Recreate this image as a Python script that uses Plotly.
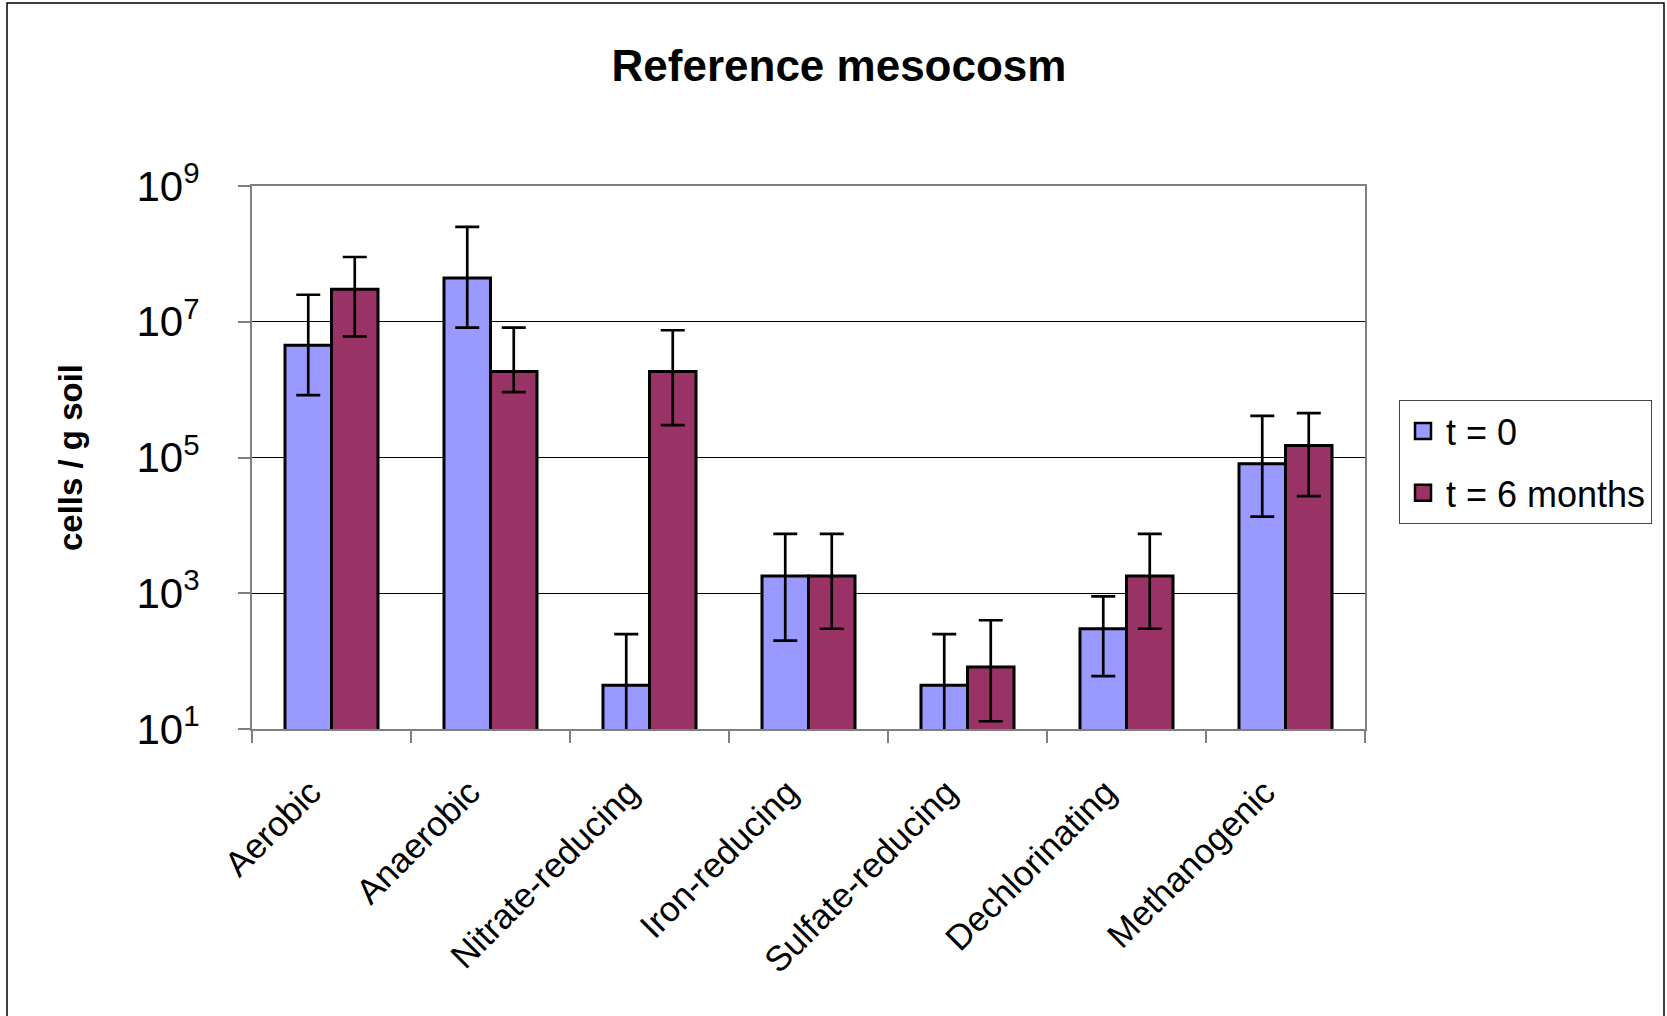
import plotly.graph_objects as go

# ---- data ----
categories = ["Aerobic", "Anaerobic", "Nitrate-reducing", "Iron-reducing",
              "Sulfate-reducing", "Dechlorinating", "Methanogenic"]

t0_values = [4.5e6, 4.4e7, 44, 1800, 44, 300, 8.1e4]
t0_low    = [8.3e5, 8.2e6, 8, 200, 8, 60, 1.35e4]
t0_high   = [2.5e7, 2.5e8, 250, 7500, 250, 900, 4.1e5]

t6_values = [3.0e7, 1.85e6, 1.85e6, 1800, 82, 1800, 1.5e5]
t6_low    = [6.1e6, 9.2e5, 3.0e5, 300, 13, 300, 2.7e4]
t6_high   = [9.0e7, 8.2e6, 7.5e6, 7500, 400, 7500, 4.5e5]

series_names = ["t = 0", "t = 6 months"]
series_colors = ["#9999FF", "#993366"]

ytick_vals = [1e1, 1e3, 1e5, 1e7, 1e9]
ytick_text = ["10<sup>1</sup>", "10<sup>3</sup>", "10<sup>5</sup>",
              "10<sup>7</sup>", "10<sup>9</sup>"]

FONT = "Liberation Sans, Arial, sans-serif"
PAD = "\u00a0" * 3  # nudges the rotated labels slightly left/down like Excel

fig = go.Figure()
for name, color, vals, lo, hi, grp in [
    (series_names[0], series_colors[0], t0_values, t0_low, t0_high, "a"),
    (series_names[1], series_colors[1], t6_values, t6_low, t6_high, "b"),
]:
    fig.add_trace(go.Bar(
        x=categories, y=vals, name=name, legendgroup=grp, showlegend=False,
        marker=dict(color=color, line=dict(color="black", width=3)),
        error_y=dict(type="data", symmetric=False,
                     array=[h - v for h, v in zip(hi, vals)],
                     arrayminus=[v - l for v, l in zip(vals, lo)],
                     color="black", thickness=2.7, width=12),
    ))
    # legend entry with a larger square swatch (like the Excel legend key)
    fig.add_trace(go.Scatter(
        x=[None], y=[None], mode="markers", name=name, legendgroup=grp,
        marker=dict(symbol="square", size=16, color=color,
                    line=dict(color="black", width=2.5)),
        hoverinfo="skip",
    ))

W, H = 1667, 1016
L, R, T, B = 252, 1365, 186, 729

def px_x(p):
    return (p - L) / (R - L)

def px_y(p):
    return (B - p) / (B - T)

fig.update_layout(
    width=W, height=H,
    margin=dict(l=L, r=W - R, t=T, b=H - B, autoexpand=False),
    paper_bgcolor="white", plot_bgcolor="white",
    font=dict(family=FONT, color="black", size=35),
    barmode="group", bargap=0.415, bargroupgap=0,
    title=dict(text="<b>Reference mesocosm</b>",
               font=dict(family=FONT, size=44, color="black"),
               xref="paper", x=px_x(839), xanchor="center",
               yref="container", y=1 - 66 / H, yanchor="middle"),
    showlegend=True,
    legend=dict(x=px_x(1399), xanchor="left", y=px_y(400), yanchor="top",
                bgcolor="white", bordercolor="#444444", borderwidth=1,
                font=dict(family=FONT, size=36, color="black"),
                traceorder="grouped", tracegroupgap=12,
                itemsizing="trace", itemwidth=36),
    xaxis=dict(
        type="category", tickangle=-45, tickson="boundaries",
        tickvals=categories, ticktext=[c + PAD for c in categories],
        ticks="outside", ticklen=12, tickcolor="#808080", tickwidth=1.5,
        ticklabelstandoff=6,
        showline=True, linecolor="#808080", linewidth=2, mirror=True,
        showgrid=False,
        tickfont=dict(family=FONT, size=35, color="black"),
    ),
    yaxis=dict(
        type="log", range=[1, 9],
        tickvals=ytick_vals, ticktext=ytick_text,
        ticks="outside", ticklen=12, tickcolor="#808080", tickwidth=1.5,
        ticklabelstandoff=30,
        showline=True, linecolor="#808080", linewidth=2, mirror=True,
        showgrid=True, gridcolor="black", gridwidth=1,
        zeroline=False,
        tickfont=dict(family=FONT, size=42, color="black"),
        title=dict(text="<b>cells / g soil</b>", standoff=44,
                   font=dict(family=FONT, size=33, color="black")),
    ),
    shapes=[dict(type="rect", xref="paper", yref="paper",
                 x0=px_x(7), x1=px_x(1664), y0=px_y(1030), y1=px_y(3),
                 line=dict(color="black", width=1.5), fillcolor="rgba(0,0,0,0)",
                 layer="below")],
)

fig.write_html("out.html", config={"displayModeBar": False},
               post_script="document.body.style.margin='0';")
